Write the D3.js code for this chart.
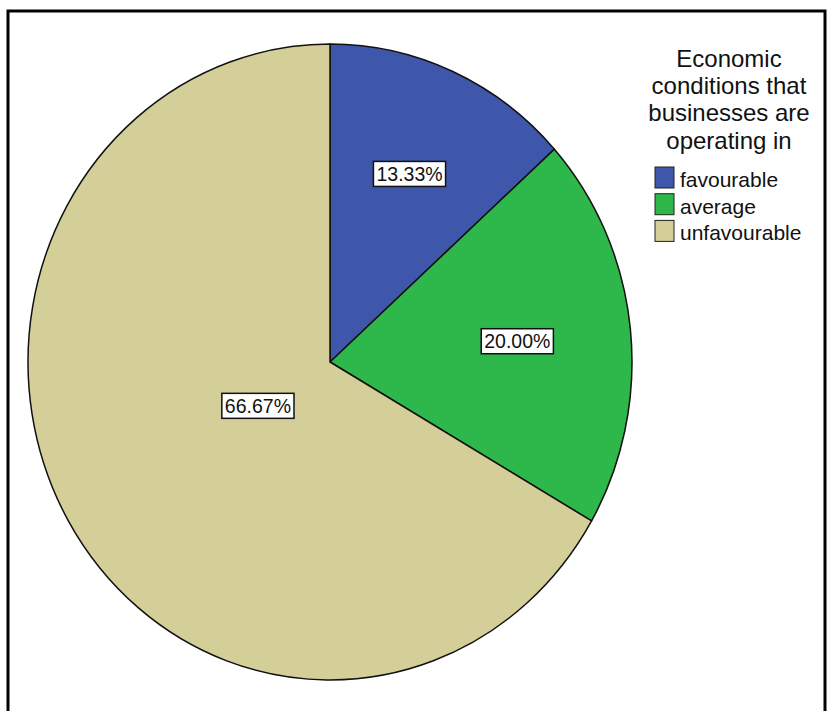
<!DOCTYPE html>
<meta charset="utf-8">
<title>Economic conditions</title>
<style>
body { margin: 0; background: #fff; }
text { font-family: "Liberation Sans", Arial, sans-serif; fill: #111; }
</style>
<body>
<svg></svg>
<script src="https://d3js.org/d3.v7.min.js"></script>
<script>

var categories = ["favourable", "average", "unfavourable"],
    percents = [13.33, 20.00, 66.67],
    colors = ["#3f57ab", "#2eb74a", "#d4cf98"],
    legendTitle = ["Economic", "conditions that", "businesses are", "operating in"];

var width = 832,
    height = 711,
    cx = 330, cy = 362,
    rx = 302, ry = 318;

var svg = d3.select("svg").attr("width", width).attr("height", height);

// outer frame
svg.append("rect")
    .attr("x", 8).attr("y", 11)
    .attr("width", 817).attr("height", 705)
    .attr("fill", "none").attr("stroke", "#000").attr("stroke-width", 3);

var pie = d3.pie().sort(null).value(d => d),
    arcs = pie(percents),
    arc = d3.arc().innerRadius(0).outerRadius(rx);

var pieLayer = svg.append("g")
    .attr("transform", "translate(" + cx + "," + cy + ") scale(1," + (ry / rx) + ")");

pieLayer.selectAll("path")
    .data(arcs)
    .enter()
    .append("path")
    .attr("d", arc)
    .attr("fill", (d, i) => colors[i])
    .attr("stroke", "#111")
    .attr("stroke-width", 1.5)
    .attr("vector-effect", "non-scaling-stroke");

// labels at the area centroid of each sector
var labelLayer = svg.append("g");
arcs.forEach(function(d, i) {
    var half = (d.endAngle - d.startAngle) / 2,
        mid = d.startAngle + half,
        k = 2 * Math.sin(half) / (3 * half),
        x = cx + k * rx * Math.sin(mid),
        y = cy - k * ry * Math.cos(mid);
    var g = labelLayer.append("g").attr("transform", "translate(" + x + "," + y + ")");
    var box = g.append("rect");
    var t = g.append("text")
        .attr("text-anchor", "middle")
        .attr("dy", "0.36em")
        .style("font-size", "19.5px")
        .text(percents[i].toFixed(2) + "%");
    var bb = t.node().getBBox();
    box.attr("x", -bb.width / 2 - 3).attr("y", -12.5)
        .attr("width", bb.width + 6).attr("height", 25)
        .attr("fill", "#fff").attr("stroke", "#111").attr("stroke-width", 1.5);
});

// legend
var legend = svg.append("g");
legend.selectAll("text.title")
    .data(legendTitle)
    .enter()
    .append("text")
    .attr("class", "title")
    .attr("x", 729)
    .attr("y", (d, i) => 58 + i * 27.3)
    .attr("dy", "0.36em")
    .attr("text-anchor", "middle")
    .style("font-size", "24px")
    .text(d => d);

var item = legend.selectAll("g.item")
    .data(categories)
    .enter()
    .append("g")
    .attr("class", "item")
    .attr("transform", (d, i) => "translate(655," + (167 + i * 26.7) + ")");

item.append("rect")
    .attr("width", 19).attr("height", 21)
    .attr("fill", (d, i) => colors[i])
    .attr("stroke", "#222").attr("stroke-width", 1);

item.append("text")
    .attr("x", 25).attr("y", 20)
    .style("font-size", "21px")
    .text(d => d);

</script>
</body>
